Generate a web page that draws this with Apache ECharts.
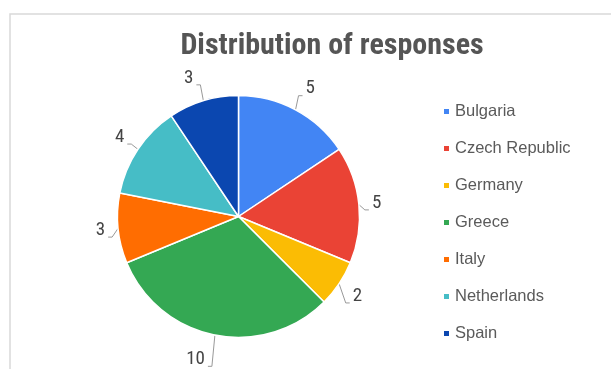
<!DOCTYPE html>
<html>
<head>
<meta charset="utf-8">
<script src="https://cdn.jsdelivr.net/npm/echarts@6/dist/echarts.min.js"></script>
<style>
  html, body { margin: 0; padding: 0; background: #fff; }
  #chart { width: 611px; height: 369px; }
</style>
</head>
<body>
<div id="chart"></div>
<script>
// Responses per country
const countries = ['Bulgaria', 'Czech Republic', 'Germany', 'Greece', 'Italy', 'Netherlands', 'Spain'];
const responses = [5, 5, 2, 10, 3, 4, 3];
const sliceColors = ['#4285F4', '#EA4335', '#FBBC04', '#34A853', '#FF6D01', '#46BDC6', '#0B47B0'];

const narrowFont = '"Liberation Sans Narrow", "Arial Narrow", "Roboto Condensed", sans-serif';
const bodyFont = '"Liberation Sans", Arial, sans-serif';

// Pie geometry, shared by the series and the label placement below
const PIE_CX = 238.5, PIE_CY = 216.5, PIE_R = 121;
const LABEL_SIZE = 19;
const LABEL_GAP = 12;      // clearance between pie edge and value label
const GLYPH_HALF = 7;      // half height of a digit glyph
const SIDE_OFFSET = 10;    // minimum horizontal distance from leader start to text

const total = responses.reduce((a, b) => a + b, 0);
const midAngles = [];
responses.reduce((acc, v) => {
  midAngles.push((acc + v / 2) / total * 2 * Math.PI);
  return acc + v;
}, 0);

// Places each value label just outside its slice and draws a short elbow leader
function placeLabel(params) {
  const a = midAngles[params.dataIndex];
  const ux = Math.sin(a), uy = -Math.cos(a);
  const w = params.labelRect.width;
  const reach = (w / 2) * Math.abs(ux) + 11 * Math.abs(uy);
  const d = PIE_R + LABEL_GAP + reach;
  let cx = PIE_CX + d * ux;
  const cy = PIE_CY + d * uy;
  const sx = PIE_CX + PIE_R * ux, sy = PIE_CY + PIE_R * uy;
  const right = ux >= 0;
  // keep the text beside the leader rather than over it
  if (right) cx = Math.max(cx, sx + SIDE_OFFSET + w / 2);
  else cx = Math.min(cx, sx - SIDE_OFFSET - w / 2);
  const bottom = cy + GLYPH_HALF;
  const tx = right ? cx - w / 2 - 3 : cx + w / 2 + 3;
  const mx = right ? tx - 4 : tx + 4;
  return {
    x: cx,
    y: cy,
    align: 'center',
    verticalAlign: 'middle',
    labelLinePoints: [[sx, sy], [mx, bottom], [tx, bottom]]
  };
}

const chart = echarts.init(document.getElementById('chart'), null, { renderer: 'canvas' });

chart.setOption({
  animation: false,
  backgroundColor: '#fff',
  graphic: [{
    type: 'rect',
    shape: { x: 10, y: 14, width: 700, height: 400 },
    style: { fill: 'none', stroke: '#d9d9d9', lineWidth: 1.5 },
    silent: true
  }],
  title: {
    text: 'Distribution of responses',
    left: 327,
    textAlign: 'center',
    top: 26,
    textStyle: { fontFamily: narrowFont, fontSize: 30, fontWeight: 'bold', color: '#555' }
  },
  legend: {
    orient: 'vertical',
    left: 437,
    top: 98,
    icon: 'rect',
    itemWidth: 7,
    itemHeight: 7,
    itemGap: 20,
    textStyle: { fontFamily: bodyFont, fontSize: 16.5, color: '#5a5a5a' },
    data: countries
  },
  series: [{
    type: 'pie',
    center: [PIE_CX, PIE_CY],
    radius: PIE_R,
    startAngle: 90,
    clockwise: true,
    avoidLabelOverlap: false,
    itemStyle: { borderColor: '#fff', borderWidth: 1.5 },
    label: {
      show: true,
      position: 'outside',
      formatter: '{c}',
      fontFamily: narrowFont,
      fontSize: LABEL_SIZE,
      color: '#444'
    },
    labelLine: {
      show: true,
      length: 10,
      length2: 5,
      lineStyle: { color: '#999', width: 1 }
    },
    labelLayout: placeLabel,
    data: countries.map((name, i) => ({
      name,
      value: responses[i],
      itemStyle: { color: sliceColors[i] }
    }))
  }]
});
</script>
</body>
</html>
